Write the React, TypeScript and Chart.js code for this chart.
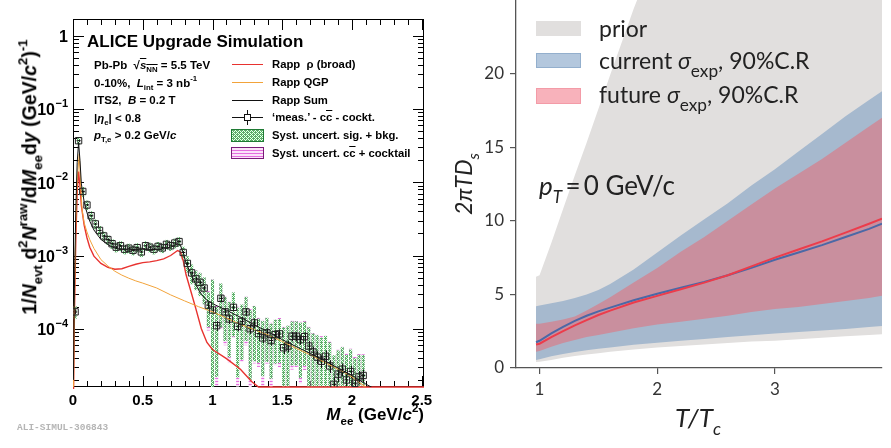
import React, { useEffect, useRef } from "react";
import { Chart, registerables } from "chart.js";

Chart.register(...registerables);

// ---------------- Left panel: ALICE dielectron spectrum ----------------
const measMass = [
  0.015, 0.04, 0.07, 0.10, 0.13, 0.16, 0.19, 0.22, 0.25, 0.28,
  0.31, 0.34, 0.37, 0.40, 0.43, 0.46, 0.49, 0.52, 0.55, 0.58,
  0.61, 0.64, 0.67, 0.70, 0.73, 0.76, 0.79, 0.82, 0.85, 0.88,
  0.91, 0.94, 0.97, 1.00, 1.03, 1.06, 1.09, 1.12, 1.15, 1.18,
  1.21, 1.24, 1.27, 1.30, 1.33, 1.36, 1.39, 1.42, 1.45, 1.48,
  1.51, 1.54, 1.57, 1.60, 1.63, 1.66, 1.69, 1.72, 1.75, 1.78,
  1.81, 1.84, 1.87, 1.90, 1.93, 1.96, 1.99, 2.02, 2.05, 2.08,
];
const measValues = [
  1.7e-4, 3.7e-2, 7.5e-3, 4.9e-3, 3.5e-3, 2.7e-3, 2.2e-3, 1.85e-3, 1.65e-3, 1.45e-3,
  1.30e-3, 1.36e-3, 1.22e-3, 1.26e-3, 1.18e-3, 1.28e-3, 1.12e-3, 1.36e-3, 1.30e-3, 1.22e-3,
  1.33e-3, 1.27e-3, 1.42e-3, 1.36e-3, 1.48e-3, 1.55e-3, 1.10e-3, 7.8e-4, 5.8e-4, 4.8e-4,
  4.3e-4, 3.6e-4, 2.1e-4, 1.8e-4, 1.1e-4, 2.6e-4, 1.7e-4, 1.36e-4, 1.96e-4, 1.08e-4,
  1.26e-4, 1.7e-4, 1.0e-4, 1.2e-4, 8.6e-5, 7.5e-5, 8.8e-5, 6.9e-5, 8.3e-5, 8.5e-5,
  5.5e-5, 5.8e-5, 7.9e-5, 7.9e-5, 7.1e-5, 7.8e-5, 5.8e-5, 4.8e-5, 4.1e-5, 3.6e-5,
  4.2e-5, 3.1e-5, 1.74e-5, 2.4e-5, 2.8e-5, 2.0e-5, 2.6e-5, 1.8e-5, 2.2e-5, 2.3e-5,
];
const measStatRel = [
  0.08, 0.03, 0.03, 0.03, 0.03, 0.03, 0.03, 0.03, 0.03, 0.03,
  0.03, 0.03, 0.03, 0.03, 0.03, 0.03, 0.03, 0.03, 0.03, 0.03,
  0.03, 0.03, 0.03, 0.03, 0.03, 0.03, 0.04, 0.05, 0.05, 0.06,
  0.06, 0.07, 0.10, 0.10, 0.15, 0.10, 0.12, 0.15, 0.12, 0.15,
  0.15, 0.12, 0.15, 0.15, 0.15, 0.15, 0.15, 0.15, 0.15, 0.15,
  0.18, 0.18, 0.15, 0.15, 0.15, 0.15, 0.18, 0.18, 0.20, 0.20,
  0.20, 0.20, 0.25, 0.22, 0.20, 0.22, 0.20, 0.22, 0.20, 0.20,
];
const systSigRel = [
  0.20, 0.12, 0.15, 0.15, 0.15, 0.15, 0.15, 0.15, 0.15, 0.15,
  0.15, 0.15, 0.15, 0.15, 0.15, 0.15, 0.15, 0.15, 0.15, 0.15,
  0.15, 0.15, 0.15, 0.15, 0.15, 0.15, 0.20, 0.25, 0.30, 0.30,
  0.35, 0.40, 0.50, 1.60, 0.80, 0.60, 0.60, 0.70, 0.60, 0.80,
  0.70, 0.60, 0.80, 0.70, 0.60, 0.70, 0.60, 0.70, 0.60, 0.60,
  0.90, 0.90, 0.60, 0.60, 0.70, 0.60, 0.80, 0.80, 1.00, 1.10,
  0.90, 1.10, 1.50, 1.10, 1.00, 1.20, 1.00, 1.20, 1.00, 0.90,
];
const systCcRel = [
  0.10, 0.10, 0.10, 0.10, 0.10, 0.10, 0.10, 0.10, 0.10, 0.10,
  0.10, 0.10, 0.10, 0.10, 0.10, 0.10, 0.10, 0.10, 0.10, 0.10,
  0.10, 0.10, 0.10, 0.10, 0.10, 0.10, 0.15, 0.20, 0.25, 0.30,
  0.35, 0.40, 0.55, 1.60, 0.85, 0.62, 0.65, 0.75, 0.62, 0.85,
  0.72, 0.65, 0.85, 0.72, 0.65, 0.78, 0.62, 0.78, 0.62, 0.65,
  0.95, 0.92, 0.65, 0.62, 0.75, 0.65, 0.85, 0.82, 1.05, 1.20,
  0.92, 1.20, 1.50, 1.20, 1.05, 1.30, 1.05, 1.30, 1.05, 0.95,
];

const rhoMass = [
  0.003, 0.01, 0.02, 0.03, 0.04, 0.05, 0.06, 0.08, 0.10, 0.12,
  0.15, 0.20, 0.25, 0.30, 0.35, 0.40, 0.45, 0.50, 0.55, 0.60,
  0.65, 0.70, 0.75, 0.77, 0.79, 0.81, 0.85, 0.88, 0.92, 0.96,
  1.00, 1.10, 1.20, 1.28, 1.33, 1.60, 2.00, 2.516,
];
const rhoValues = [
  1.0e-5, 1.5e-4, 1.6e-3, 7.5e-3, 1.4e-2, 9.0e-3, 4.8e-3, 2.6e-3, 1.75e-3, 1.3e-3,
  9.8e-4, 7.8e-4, 6.9e-4, 6.5e-4, 6.6e-4, 7.1e-4, 7.6e-4, 8.0e-4, 8.2e-4, 8.5e-4,
  9.0e-4, 1.0e-3, 1.17e-3, 1.12e-3, 8.5e-4, 5.5e-4, 3.0e-4, 1.9e-4, 1.0e-4, 6.5e-5,
  5.2e-5, 3.9e-5, 2.8e-5, 1.9e-5, 1.6e-5, 1.6e-5, 1.6e-5, 1.6e-5,
];
const qgpMass = [
  0.003, 0.01, 0.02, 0.03, 0.045, 0.055, 0.065, 0.08, 0.10, 0.12,
  0.15, 0.20, 0.25, 0.30, 0.35, 0.40, 0.45, 0.50, 0.60, 0.70,
  0.80, 0.90, 1.00, 1.10, 1.20, 1.30, 1.40, 1.50, 1.60, 1.70,
  1.80, 1.90, 2.00, 2.05, 2.10,
];
const qgpValues = [
  1.0e-5, 2.0e-4, 2.5e-3, 1.1e-2, 2.45e-2, 9.0e-3, 4.2e-3, 2.8e-3, 2.1e-3, 1.65e-3,
  1.25e-3, 8.8e-4, 7.2e-4, 6.1e-4, 5.4e-4, 4.9e-4, 4.5e-4, 4.2e-4, 3.6e-4, 2.9e-4,
  2.4e-4, 2.0e-4, 1.7e-4, 1.4e-4, 1.15e-4, 9.7e-5, 8.2e-5, 6.7e-5, 5.4e-5, 4.4e-5,
  3.5e-5, 2.8e-5, 2.2e-5, 1.85e-5, 1.6e-5,
];
const sumMass = [
  0.003, 0.01, 0.02, 0.03, 0.04, 0.05, 0.06, 0.08, 0.10, 0.12,
  0.15, 0.20, 0.25, 0.30, 0.35, 0.40, 0.45, 0.50, 0.55, 0.60,
  0.65, 0.70, 0.75, 0.77, 0.79, 0.81, 0.85, 0.88, 0.92, 0.96,
  1.00, 1.10, 1.20, 1.30, 1.40, 1.50, 1.60, 1.70, 1.80, 1.90,
  2.00, 2.10, 2.15,
];
const sumValues = [
  2.0e-5, 3.5e-4, 4.1e-3, 1.85e-2, 3.5e-2, 2.0e-2, 9.5e-3, 5.4e-3, 3.85e-3, 2.95e-3,
  2.23e-3, 1.66e-3, 1.41e-3, 1.26e-3, 1.2e-3, 1.2e-3, 1.21e-3, 1.22e-3, 1.21e-3, 1.21e-3,
  1.23e-3, 1.29e-3, 1.45e-3, 1.38e-3, 1.09e-3, 7.9e-4, 5.4e-4, 4.0e-4, 2.95e-4, 2.45e-4,
  2.2e-4, 1.79e-4, 1.43e-4, 1.13e-4, 9.0e-5, 7.1e-5, 5.7e-5, 4.6e-5, 3.7e-5, 2.9e-5,
  2.3e-5, 1.75e-5, 1.55e-5,
];

const leftXTickValues = [0, 0.5, 1, 1.5, 2, 2.5];
const leftXTickLabels = ["0", "0.5", "1", "1.5", "2", "2.5"];
const leftYDecades = [1, 0.1, 0.01, 0.001, 0.0001];
const leftYDecadeExps = ["", "\u22121", "\u22122", "\u22123", "\u22124"];

// ---------------- Right panel: 2πTDs bands ----------------
const tempRatio = [0.97, 1.0, 1.1, 1.2, 1.3, 1.4, 1.5, 1.6, 1.8, 2.0, 2.2, 2.4, 2.6, 2.8, 3.0, 3.2, 3.4, 3.6, 3.8, 3.91];
const priorLow = [0.4, 0.42, 0.55, 0.7, 0.82, 0.92, 1.0, 1.1, 1.25, 1.4, 1.5, 1.6, 1.7, 1.8, 1.85, 1.95, 2.05, 2.15, 2.25, 2.3];
const priorHigh = [6.2, 6.3, 8.5, 10.8, 13.1, 15.3, 17.6, 19.9, 24.4, 28.5, 31, 33, 35, 37, 38, 39, 40, 41, 42, 42.5];
const currentLow = [0.55, 0.6, 0.8, 0.95, 1.08, 1.2, 1.3, 1.4, 1.58, 1.72, 1.85, 1.97, 2.1, 2.22, 2.35, 2.45, 2.55, 2.65, 2.78, 2.85];
const currentHigh = [4.2, 4.25, 4.4, 4.55, 4.75, 5.0, 5.3, 5.7, 6.7, 7.85, 9.0, 10.1, 11.2, 12.4, 13.5, 14.7, 15.9, 17.1, 18.2, 18.8];
const futureLow = [1.1, 1.15, 1.45, 1.7, 1.9, 2.1, 2.25, 2.4, 2.7, 2.95, 3.15, 3.35, 3.55, 3.8, 4.0, 4.15, 4.35, 4.55, 4.75, 4.9];
const futureHigh = [3.0, 3.0, 3.15, 3.3, 3.5, 3.9, 4.35, 4.8, 5.8, 6.8, 7.9, 8.9, 10.0, 11.1, 12.2, 13.2, 14.2, 15.3, 16.4, 17.0];
const currentMedian = [1.75, 1.85, 2.35, 2.8, 3.2, 3.55, 3.85, 4.1, 4.6, 5.05, 5.45, 5.85, 6.3, 6.8, 7.35, 7.85, 8.35, 8.9, 9.45, 9.8];
const futureMedian = [1.6, 1.65, 2.1, 2.5, 2.9, 3.25, 3.6, 3.9, 4.45, 4.9, 5.35, 5.8, 6.3, 6.9, 7.5, 8.05, 8.6, 9.2, 9.8, 10.15];
const rightXTicks = [1, 2, 3];
const rightYTicks = [0, 5, 10, 15, 20];

const SANS = '"Liberation Sans", Arial, Helvetica, sans-serif';
const LATO = 'Lato, "Open Sans", sans-serif';

const pts = (xs: number[], ys: number[]) => xs.map((x, i) => ({ x, y: ys[i] }));

function makePattern(ctx: CanvasRenderingContext2D, kind: "green" | "magenta") {
  const c = document.createElement("canvas");
  const g = c.getContext("2d")!;
  if (kind === "green") {
    c.width = 4; c.height = 4;
    g.fillStyle = "#f2f8f2"; g.fillRect(0, 0, 4, 4);
    g.fillStyle = "#4cbf5e";
    for (let i = 0; i < 4; i++) for (let j = 0; j < 4; j++) if ((i + j) % 2 === 0) g.fillRect(i, j, 1, 1);
    g.fillStyle = "#7d8c80"; g.fillRect(1, 2, 1, 1); g.fillRect(3, 0, 1, 1);
  } else {
    c.width = 3; c.height = 3;
    g.fillStyle = "#fbe3f9"; g.fillRect(0, 0, 3, 3);
    g.fillStyle = "#e56ddf"; g.fillRect(0, 0, 3, 1);
  }
  return ctx.createPattern(c, "repeat")!;
}

const BOX_HALF = 0.011;
const XERR_HALF = 0.015;

const leftDecor = {
  id: "leftDecor",
  beforeDatasetsDraw(chart: any) {
    const { ctx, chartArea: a, scales } = chart;
    const x = scales.x, y = scales.y;
    const green = makePattern(ctx, "green");
    const magenta = makePattern(ctx, "magenta");
    ctx.save();
    // frame and inner ticks (under the curves, like ROOT)
    ctx.strokeStyle = "#000";
    ctx.lineWidth = 1;
    ctx.strokeRect(a.left + 0.5, a.top + 0.5, a.right - a.left - 1, a.bottom - a.top - 1);
    ctx.beginPath();
    for (let d = -5; d <= 0; d++) {
      for (let k = 1; k <= 9; k++) {
        const v = k * Math.pow(10, d);
        if (v < y.min || v > y.max) continue;
        const py = Math.round(y.getPixelForValue(v)) + 0.5;
        const len = k === 1 ? 11 : 6;
        ctx.moveTo(a.left, py); ctx.lineTo(a.left + len, py);
        ctx.moveTo(a.right, py); ctx.lineTo(a.right - len, py);
      }
    }
    for (let i = 0; i <= 25; i++) {
      const v = i / 10;
      if (v > x.max) continue;
      const px = Math.round(x.getPixelForValue(v)) + 0.5;
      const len = i % 5 === 0 ? 11 : 6;
      ctx.moveTo(px, a.bottom); ctx.lineTo(px, a.bottom - len);
      ctx.moveTo(px, a.top); ctx.lineTo(px, a.top + len);
    }
    ctx.stroke();

    ctx.beginPath();
    ctx.rect(a.left, a.top, a.right - a.left, a.bottom - a.top);
    ctx.clip();
    const boxes = (rel: number[], fill: any) => {
      measMass.forEach((m, i) => {
        const v = measValues[i];
        const hi = v * (1 + rel[i]);
        const lo = Math.max(v * (1 - rel[i]), 1e-9);
        const x0 = x.getPixelForValue(m - BOX_HALF);
        const x1 = x.getPixelForValue(m + BOX_HALF);
        const y0 = y.getPixelForValue(hi);
        const y1 = y.getPixelForValue(lo);
        ctx.fillStyle = fill;
        ctx.fillRect(x0, y0, x1 - x0, y1 - y0);
      });
    };
    boxes(systCcRel, magenta);
    boxes(systSigRel, green);
    ctx.strokeStyle = "#111";
    ctx.lineWidth = 1;
    measMass.forEach((m, i) => {
      const v = measValues[i];
      const px = Math.round(x.getPixelForValue(m)) + 0.5;
      const py = y.getPixelForValue(v);
      ctx.beginPath();
      ctx.moveTo(px, y.getPixelForValue(v * (1 + measStatRel[i])));
      ctx.lineTo(px, y.getPixelForValue(Math.max(v * (1 - measStatRel[i]), 1e-9)));
      ctx.moveTo(x.getPixelForValue(m - XERR_HALF), py);
      ctx.lineTo(x.getPixelForValue(m + XERR_HALF), py);
      ctx.stroke();
    });
    ctx.restore();
  },
  afterDraw(chart: any) {
    const { ctx, chartArea: a, scales } = chart;
    const y = scales.y;
    ctx.save();
    // y decade labels
    ctx.fillStyle = "#000";
    ctx.textAlign = "right";
    ctx.textBaseline = "middle";
    const rx = a.left - 5;
    leftYDecades.forEach((v, i) => {
      const py = y.getPixelForValue(v) + 2;
      const e = leftYDecadeExps[i];
      if (!e) {
        ctx.font = `bold 16px ${SANS}`;
        ctx.fillText("1", rx, py);
      } else {
        ctx.font = `bold 11px ${SANS}`;
        const w = ctx.measureText(e).width;
        ctx.fillText(e, rx, py - 7);
        ctx.font = `bold 16px ${SANS}`;
        ctx.fillText("10", rx - w - 0.5, py);
      }
    });
    // legend symbols
    const lx0 = 232, lx1 = 263;
    const hline = (col: string, yy: number) => {
      ctx.strokeStyle = col; ctx.lineWidth = 1;
      ctx.beginPath(); ctx.moveTo(lx0, yy + 0.5); ctx.lineTo(lx1, yy + 0.5); ctx.stroke();
    };
    hline("#e8322f", 64);
    hline("#f2a33a", 82);
    hline("#111", 100);
    hline("#111", 117);
    ctx.beginPath(); ctx.moveTo(247.5, 110); ctx.lineTo(247.5, 125); ctx.stroke();
    ctx.fillStyle = "#fff";
    ctx.fillRect(244, 114, 7, 7);
    ctx.strokeRect(244.5, 114.5, 6, 6);
    ctx.fillStyle = makePattern(ctx, "green");
    ctx.fillRect(231, 129, 33, 13);
    ctx.strokeStyle = "#1f7a34";
    ctx.strokeRect(231.5, 129.5, 32, 12);
    ctx.fillStyle = makePattern(ctx, "magenta");
    ctx.fillRect(231, 147, 33, 12);
    ctx.strokeStyle = "#7a1a78";
    ctx.strokeRect(231.5, 147.5, 32, 11);
    ctx.restore();
  },
};

function leftConfig(): any {
  return {
    type: "scatter",
    data: {
      datasets: [
        { label: "meas", data: pts(measMass, measValues), pointStyle: "rect", pointRadius: 4.5, borderColor: "#222", backgroundColor: "rgba(0,0,0,0)", borderWidth: 1, order: 1 },
        { label: "Rapp Sum", data: pts(sumMass, sumValues), showLine: true, borderColor: "#111", borderWidth: 1, pointRadius: 0, order: 2 },
        { label: "Rapp QGP", data: pts(qgpMass, qgpValues), showLine: true, borderColor: "#f2a33a", borderWidth: 1, pointRadius: 0, order: 3 },
        { label: "Rapp rho", data: pts(rhoMass, rhoValues), showLine: true, borderColor: "#e8322f", borderWidth: 1.4, pointRadius: 0, order: 4, clip: { left: 0, top: 0, right: 0, bottom: 2 } },
      ],
    },
    options: {
      animation: false,
      responsive: false,
      layout: { padding: { top: 19, right: 16, left: 0, bottom: 0 } },
      scales: {
        x: {
          type: "linear", min: 0, max: 2.516,
          afterBuildTicks: (s: any) => { s.ticks = leftXTickValues.map((v) => ({ value: v })); },
          ticks: {
            autoSkip: false, maxRotation: 0, padding: 5, color: "#000",
            font: { family: SANS, size: 15, weight: "bold" },
            callback: (v: number) => { const i = leftXTickValues.findIndex((t) => Math.abs(t - v) < 1e-6); return i >= 0 ? leftXTickLabels[i] : ""; },
          },
          grid: { display: false, drawTicks: false },
          border: { display: false },
          afterFit: (s: any) => { s.height = 61; s.paddingLeft = 0; s.paddingRight = 0; },
        },
        y: {
          type: "logarithmic", min: 1.6e-5, max: 1.7,
          ticks: { display: false },
          grid: { display: false, drawTicks: false },
          border: { display: false },
          afterFit: (s: any) => { s.width = 73; s.paddingTop = 0; s.paddingBottom = 0; },
        },
      },
      plugins: { legend: { display: false }, tooltip: { enabled: false } },
    },
    plugins: [leftDecor],
  };
}

function rightConfig(): any {
  const band = (ys: number[], fill: any, color: string, order: number) => ({
    data: pts(tempRatio, ys), borderWidth: 0, borderColor: "rgba(0,0,0,0)", pointRadius: 0, fill, backgroundColor: color, order,
  });
  return {
    type: "line",
    data: {
      datasets: [
        band(priorLow, false, "#e1dfde", 30),
        band(priorHigh, "-1", "#e1dfde", 30),
        band(currentLow, false, "#a6b9ce", 20),
        band(currentHigh, "-1", "#a6b9ce", 20),
        band(futureLow, false, "#c98f9e", 10),
        band(futureHigh, "-1", "#c98f9e", 10),
        { data: pts(tempRatio, currentMedian), borderColor: "#4b68a6", borderWidth: 2, pointRadius: 0, fill: false, order: 2 },
        { data: pts(tempRatio, futureMedian), borderColor: "#ec3c4b", borderWidth: 2, pointRadius: 0, fill: false, order: 1 },
      ],
    },
    options: {
      animation: false,
      responsive: false,
      layout: { padding: { top: 0, right: 9, left: 0, bottom: 0 } },
      scales: {
        x: {
          type: "linear", min: 0.8, max: 3.91,
          afterBuildTicks: (s: any) => { s.ticks = rightXTicks.map((v) => ({ value: v })); },
          ticks: { color: "#333", padding: 5, maxRotation: 0, font: { family: LATO, size: 17 } },
          grid: { drawOnChartArea: false, drawTicks: true, tickLength: 6, color: "#555", lineWidth: 1.2 },
          border: { display: true, color: "#555", width: 1.3 },
          afterFit: (s: any) => { s.height = 80; s.paddingLeft = 0; s.paddingRight = 0; },
        },
        y: {
          type: "linear", min: 0, max: 25,
          afterBuildTicks: (s: any) => { s.ticks = rightYTicks.map((v) => ({ value: v })); },
          ticks: { color: "#333", padding: 6, font: { family: LATO, size: 17 } },
          grid: { drawOnChartArea: false, drawTicks: true, tickLength: 6, color: "#555", lineWidth: 1.2 },
          border: { display: true, color: "#555", width: 1.3 },
          afterFit: (s: any) => { s.width = 76; s.paddingTop = 0; s.paddingBottom = 0; },
        },
      },
      plugins: { legend: { display: false }, tooltip: { enabled: false }, filler: { propagate: false } },
    },
  };
}

function Sub({ children, s = 0.68 }: { children: React.ReactNode; s?: number }) {
  return <span style={{ fontSize: `${s}em`, position: "relative", top: "0.45em", lineHeight: 0 }}>{children}</span>;
}
function Sup({ children }: { children: React.ReactNode }) {
  return <span style={{ fontSize: "0.68em", position: "relative", top: "-0.7em", lineHeight: 0 }}>{children}</span>;
}
const Bar = ({ children }: { children: React.ReactNode }) => (
  <span style={{ textDecoration: "overline" }}>{children}</span>
);

const abs = (left: number, top: number, font: string, extra: React.CSSProperties = {}): React.CSSProperties => ({
  position: "absolute", left, top, font, lineHeight: 1, whiteSpace: "nowrap", color: "#000", ...extra,
});

export default function App() {
  const leftRef = useRef<HTMLCanvasElement>(null);
  const rightRef = useRef<HTMLCanvasElement>(null);
  useEffect(() => {
    const lc = new Chart(leftRef.current!, leftConfig());
    const rc = new Chart(rightRef.current!, rightConfig());
    return () => { lc.destroy(); rc.destroy(); };
  }, []);

  const info = `bold 11.5px ${SANS}`;
  const leg = `bold 11.3px ${SANS}`;
  const lat = `23px ${LATO}`;
  return (
    <div style={{ position: "fixed", left: 0, top: 0, width: 891, height: 448, background: "#fff", overflow: "hidden" }}>
      <canvas ref={leftRef} width={440} height={448} style={{ position: "absolute", left: 0, top: 0 }} />
      <canvas ref={rightRef} width={451} height={448} style={{ position: "absolute", left: 440, top: 0 }} />

      {/* Left panel texts */}
      <div style={abs(87, 33, `bold 17px ${SANS}`)}>ALICE Upgrade Simulation</div>
      <div style={abs(94, 59.5, info)}>Pb-Pb&nbsp; √<Bar><i>s</i><Sub>NN</Sub></Bar> = 5.5 TeV</div>
      <div style={abs(94, 77.5, info)}>0-10%,&nbsp; <i>L</i><Sub>int</Sub> = 3 nb<Sup>-1</Sup></div>
      <div style={abs(94, 94.5, info)}>ITS2,&nbsp; <i>B</i> = 0.2 T</div>
      <div style={abs(94, 112.5, info)}>|<i>η</i><Sub>e</Sub>| &lt; 0.8</div>
      <div style={abs(94, 129.5, info)}><i>p</i><Sub>T,e</Sub> &gt; 0.2 GeV/<i>c</i></div>

      <div style={abs(272, 58.5, leg)}>Rapp&nbsp; ρ (broad)</div>
      <div style={abs(272, 76.5, leg)}>Rapp QGP</div>
      <div style={abs(272, 94.5, leg)}>Rapp Sum</div>
      <div style={abs(272, 111.5, leg)}>‘meas.’ - c<Bar>c</Bar> - cockt.</div>
      <div style={abs(272, 129.5, leg)}>Syst. uncert. sig. + bkg.</div>
      <div style={abs(272, 147.5, leg)}>Syst. uncert. c<Bar>c</Bar> + cocktail</div>

      <div style={abs(30, 177, `bold 19.5px ${SANS}`, { transform: "translate(-50%,-50%) rotate(-90deg)" })}>
        1/<i>N</i><Sub>evt</Sub> d<Sup>2</Sup><i>N</i><Sup>raw</Sup>/d<i>M</i><Sub>ee</Sub>d<i>y</i> (GeV/<i>c</i><Sup>2</Sup>)<Sup>-1</Sup>
      </div>
      <div style={abs(424, 406, `bold 17px ${SANS}`, { transform: "translateX(-100%)" })}>
        <i>M</i><Sub>ee</Sub> (GeV/<i>c</i><Sup>2</Sup>)
      </div>
      <div style={abs(17, 423, `bold 9.5px "Liberation Mono", "DejaVu Sans Mono", monospace`, { color: "#b5b5b5" })}>ALI-SIMUL-306843</div>

      {/* Right panel legend */}
      <div style={{ position: "absolute", left: 536, top: 21, width: 45, height: 15, background: "#e1dfde" }} />
      <div style={{ position: "absolute", left: 536, top: 53, width: 43, height: 13, background: "#b3c7dd", border: "1px solid #93afcd" }} />
      <div style={{ position: "absolute", left: 536, top: 88, width: 43, height: 14, background: "#f8b2bb", border: "1px solid #f39ba7" }} />
      <div style={abs(599, 17, lat, { color: "#222" })}>prior</div>
      <div style={abs(599, 49, lat, { color: "#222" })}>current <i>σ</i><Sub s={0.75}>exp</Sub>, 90%C.R</div>
      <div style={abs(599, 83, lat, { color: "#222" })}>future <i>σ</i><Sub s={0.75}>exp</Sub>, 90%C.R</div>
      <div style={abs(539, 172, `26px ${LATO}`, { color: "#222" })}><i>p</i><Sub s={0.66}><i>T</i></Sub>{"\u2009=\u20090 GeV/c"}</div>

      <div style={abs(463, 184, `italic 23px ${LATO}`, { color: "#222", transform: "translate(-50%,-50%) rotate(-90deg)" })}>
        2πTD<Sub s={0.7}>s</Sub>
      </div>
      <div style={abs(698, 417, `italic 26px ${LATO}`, { color: "#222", transform: "translate(-50%,-50%)" })}>
        T/T<Sub>c</Sub>
      </div>
    </div>
  );
}
